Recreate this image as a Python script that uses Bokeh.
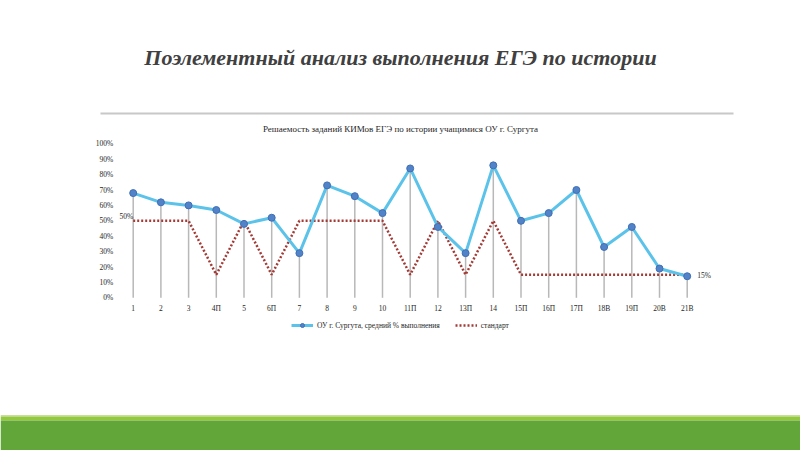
from bokeh.plotting import figure
from bokeh.models import (ColumnDataSource, Range1d, FixedTicker,
                          NumeralTickFormatter, Legend, LegendItem, LabelSet,
                          BoxAnnotation)
from bokeh.core.properties import value
from bokeh.embed import file_html
from bokeh.resources import INLINE

# --- data ---
tasks = ["1", "2", "3", "4П", "5", "6П", "7", "8", "9", "10", "11П",
         "12", "13П", "14", "15П", "16П", "17П", "18В", "19П", "20В", "21В"]
school = [68, 62, 60, 57, 48, 52, 29, 73, 66, 55, 84,
          46, 29, 86, 50, 55, 70, 33, 46, 19, 14]
standard = [50, 50, 50, 15, 50, 15, 50, 50, 50, 50, 15,
            50, 15, 50, 15, 15, 15, 15, 15, 15, 15]
y_ticks = [0, 10, 20, 30, 40, 50, 60, 70, 80, 90, 100]

slide_title = "Поэлементный анализ выполнения ЕГЭ по истории"
chart_title = "Решаемость заданий КИМов ЕГЭ по истории учащимися ОУ г. Сургута"
series_school = "ОУ г. Сургута, средний % выполнения"
series_std = "стандарт"

FONT = "Liberation Serif"
TXT = "#262626"
W, H = 800, 450

pos = list(range(1, len(tasks) + 1))
src = ColumnDataSource(dict(
    pos=pos,
    school=[v / 100 for v in school],
    std=[v / 100 for v in standard],
))

# the plot frame fills the whole slide; the chart area sits inside it:
# task 1 at x=132.7px, step 27.7px; 0% at y=297.3px, 100% at y=143.3px
step, x1px, y0px, y100px = 27.7, 132.7, 297.3, 143.3
x_range = Range1d(1 - x1px / step, 1 + (W - x1px) / step)
y_range = Range1d(-(H - y0px) / (y0px - y100px), y0px / (y0px - y100px))

p = figure(width=W, height=H, x_range=x_range, y_range=y_range,
           output_backend="svg", toolbar_location=None, min_border=0,
           outline_line_color=None)
p.grid.visible = False
# pixel ranges for the slide decoration (y runs down)
p.extra_x_ranges = {"px": Range1d(0, W)}
p.extra_y_ranges = {"px": Range1d(H, 0)}

p.text(x=[400], y=[57], text=[slide_title], x_range_name="px", y_range_name="px",
       text_align="center", text_baseline="middle", text_font=value(FONT),
       text_font_size="22px", text_font_style="bold italic", text_color="#404040")
p.add_layout(BoxAnnotation(left=100, right=733, top=112, bottom=114,
                           left_units="canvas", right_units="canvas",
                           top_units="canvas", bottom_units="canvas",
                           fill_color="#c8c8c8", fill_alpha=1, line_color=None))
p.text(x=[400], y=[128], text=[chart_title], x_range_name="px", y_range_name="px",
       text_align="center", text_baseline="middle", text_font=value(FONT),
       text_font_size="9px", text_color=TXT)
for top, bottom, col in [(414.5, 416, "#c9dd9d"), (416, 420, "#93c83f"), (420, 450, "#62a539")]:
    p.add_layout(BoxAnnotation(left=0, right=W, top=top, bottom=bottom,
                               left_units="canvas", right_units="canvas",
                               top_units="canvas", bottom_units="canvas",
                               fill_color=col, fill_alpha=1, line_color=None))

# chart
p.segment(x0="pos", y0=0, x1="pos", y1="school", source=src,
          line_color="#b8b8b8", line_width=1.5)
std_line = p.line("pos", "std", source=src, line_color="#a33a35", line_width=2.5,
                  line_dash="2 2")
school_line = p.line("pos", "school", source=src, line_color="#5bc3e9", line_width=3)
school_dots = p.scatter("pos", "school", source=src, size=7, fill_color="#5283c8",
                        line_color="#3f6fb5", line_width=1)

# end labels of the standard line
first = ColumnDataSource(dict(x=[pos[0]], y=[standard[0] / 100], t=["%d%%" % standard[0]]))
last = ColumnDataSource(dict(x=[pos[-1]], y=[standard[-1] / 100], t=["%d%%" % standard[-1]]))
p.add_layout(LabelSet(x="x", y="y", text="t", source=first, x_offset=0, y_offset=4,
                      text_align="right", text_baseline="middle", text_font=value(FONT),
                      text_font_size="7.5px", text_color=TXT))
p.add_layout(LabelSet(x="x", y="y", text="t", source=last, x_offset=10, y_offset=-1,
                      text_align="left", text_baseline="middle", text_font=value(FONT),
                      text_font_size="7.5px", text_color=TXT))

# axes pinned inside the frame
p.xaxis.ticker = FixedTicker(ticks=pos)
p.xaxis.major_label_overrides = {i: t for i, t in zip(pos, tasks)}
p.xaxis.fixed_location = 0
p.yaxis.ticker = FixedTicker(ticks=[t / 100 for t in y_ticks])
p.yaxis.formatter = NumeralTickFormatter(format="0%")
p.yaxis.fixed_location = 0.5
for ax in (p.xaxis, p.yaxis):
    ax.axis_line_color = None
    ax.major_tick_line_color = None
    ax.minor_tick_line_color = None
    ax.major_tick_out = 0
    ax.major_tick_in = 0
    ax.major_label_text_font = FONT
    ax.major_label_text_font_size = "7.5px"
    ax.major_label_text_color = TXT
p.yaxis.major_label_standoff = 6
p.xaxis.major_label_standoff = 6

legend = Legend(items=[
    LegendItem(label=series_school, renderers=[school_line, school_dots]),
    LegendItem(label=series_std, renderers=[std_line]),
], orientation="horizontal", location=(291, H - 330))
legend.label_text_font = FONT
legend.label_text_font_size = "7.5px"
legend.label_text_color = TXT
legend.glyph_width = 22
legend.glyph_height = 10
legend.label_standoff = 4
legend.label_height = 10
legend.spacing = 15
legend.padding = 2
legend.margin = 0
legend.border_line_color = None
legend.background_fill_alpha = 0
p.add_layout(legend)

open("out.html", "w").write(file_html(p, INLINE))
